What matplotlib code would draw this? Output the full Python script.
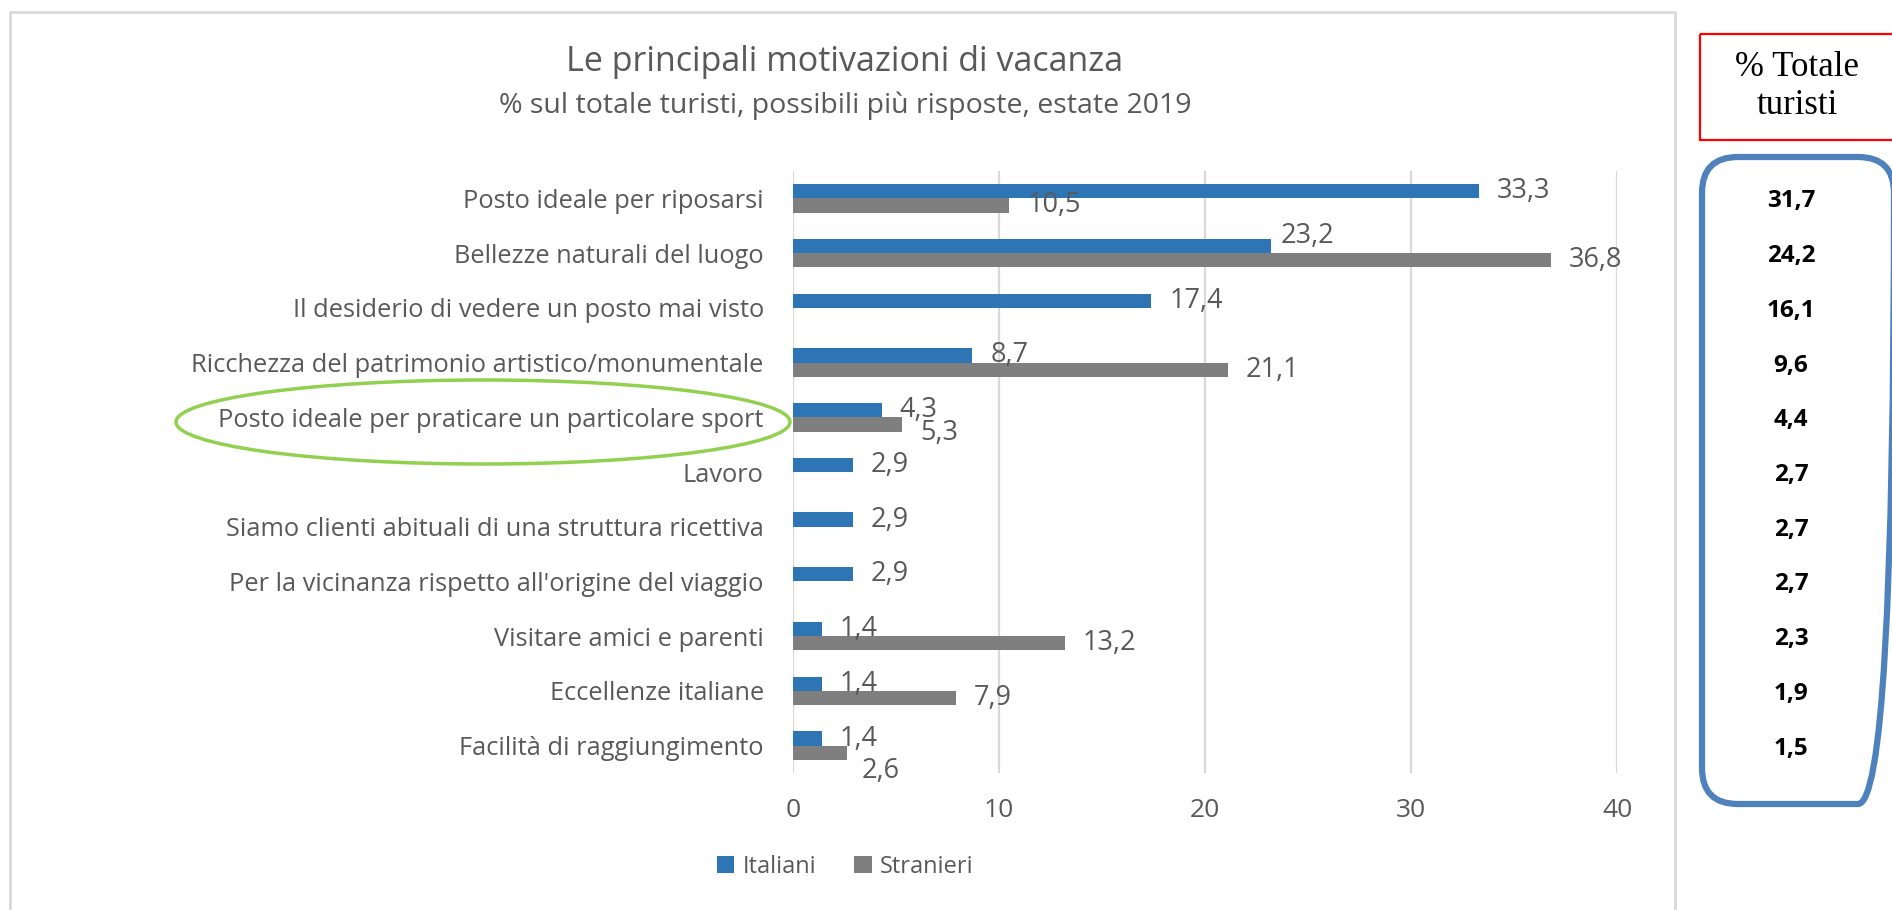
import numpy as np
import matplotlib
matplotlib.use("Agg")
import matplotlib.pyplot as plt
from matplotlib.patches import FancyBboxPatch, Ellipse, Rectangle

# data
categorie = [
    "Posto ideale per riposarsi",
    "Bellezze naturali del luogo",
    "Il desiderio di vedere un posto mai visto",
    "Ricchezza del patrimonio artistico/monumentale",
    "Posto ideale per praticare un particolare sport",
    "Lavoro",
    "Siamo clienti abituali di una struttura ricettiva",
    "Per la vicinanza rispetto all'origine del viaggio",
    "Visitare amici e parenti",
    "Eccellenze italiane",
    "Facilità di raggiungimento",
]
italiani = [33.3, 23.2, 17.4, 8.7, 4.3, 2.9, 2.9, 2.9, 1.4, 1.4, 1.4]
stranieri = [10.5, 36.8, None, 21.1, 5.3, None, None, None, 13.2, 7.9, 2.6]
totale = [31.7, 24.2, 16.1, 9.6, 4.4, 2.7, 2.7, 2.7, 2.3, 1.9, 1.5]
xticks = [0, 10, 20, 30, 40]

BLUE = "#2E75B6"
GRAY = "#7F7F7F"
TXT = "#595959"
FONT = "Open Sans"

fig = plt.figure(figsize=(18.92, 9.10), dpi=100)

ax = fig.add_axes([793 / 1892, 1 - 773 / 910, (1617 - 793) / 1892, 602 / 910])
y = np.arange(len(categorie))
h = 0.26

ita = np.array(italiani, dtype=float)
stra = np.array([np.nan if v is None else v for v in stranieri])

b1 = ax.barh(y - h / 2, ita, height=h, color=BLUE, label="Italiani", zorder=3)
b2 = ax.barh(y + h / 2, np.nan_to_num(stra), height=h, color=GRAY, label="Stranieri", zorder=3)

def fmt(v):
    return ("%.1f" % v).replace(".", ",")

# small label nudges (points) where the original moved labels to avoid overlap
nudge = {("s", 4): (0, -6), ("s", 10): (-2, -13), ("i", 1): (-6, 7)}

for i, v in enumerate(ita):
    dx, dy = nudge.get(("i", i), (0, 0))
    ax.annotate(fmt(v), (v, y[i] - h / 2), xytext=(13 + dx, dy), textcoords="offset points",
                va="center", ha="left", fontsize=19.5, color=TXT, family=FONT)
for i, v in enumerate(stra):
    if np.isnan(v):
        continue
    dx, dy = nudge.get(("s", i), (0, 0))
    ax.annotate(fmt(v), (v, y[i] + h / 2), xytext=(13 + dx, dy), textcoords="offset points",
                va="center", ha="left", fontsize=19.5, color=TXT, family=FONT)

ax.set_xlim(0, 40)
ax.set_ylim(len(categorie) - 0.5, -0.5)
ax.set_xticks(xticks)
ax.set_xticklabels([str(t) for t in xticks], fontsize=19, color=TXT, family=FONT)
ax.set_yticks(y)
ax.set_yticklabels(categorie, fontsize=18.3, color=TXT, family=FONT)
ax.tick_params(axis="x", length=0, pad=18)
ax.tick_params(axis="y", length=0, pad=21)
ax.grid(axis="x", color="#D9D9D9", linewidth=1.6, zorder=0)
for s in ax.spines.values():
    s.set_visible(False)

leg = fig.legend(handles=[b1, b2], loc="center", bbox_to_anchor=(845 / 1892, 1 - 867 / 910),
                 ncol=2, frameon=False, prop={"family": FONT, "size": 17},
                 handlelength=0.75, handleheight=0.75, handletextpad=0.35, columnspacing=1.6)
for t in leg.get_texts():
    t.set_color(TXT)

# overlay in pixel units for the frame, the title and the side panel
ov = fig.add_axes([0, 0, 1, 1], zorder=5)
ov.set_xlim(0, 1892)
ov.set_ylim(910, 0)
ov.axis("off")
ov.patch.set_alpha(0)

ov.plot([10, 10, 1675, 1675], [910, 12, 12, 910], color="#D9D9D9", lw=2)

ov.text(845, 62, "Le principali motivazioni di vacanza", ha="center", va="center",
        fontsize=24.5, color=TXT, family=FONT)
ov.text(845, 106, "% sul totale turisti, possibili più risposte, estate 2019", ha="center",
        va="center", fontsize=20.5, color=TXT, family=FONT)

ov.add_patch(Ellipse((483, 422), 614, 84, fill=False, edgecolor="#92D050", lw=2.5))

ov.add_patch(Rectangle((1700, 34), 250, 106, fill=False, edgecolor="#FF0000", lw=1.6, clip_on=False))
ov.text(1797, 86, "% Totale\nturisti", ha="center", va="center", fontsize=25,
        family="Liberation Serif", color="black", linespacing=1.2)

ov.add_patch(FancyBboxPatch((1702, 157), 192, 647, boxstyle="round,pad=0,rounding_size=36",
                            fill=False, edgecolor="#4F81BD", lw=4.5))

# totals aligned with the chart categories
fig_to_ov = ax.transData + ov.transData.inverted()
for i, v in enumerate(totale):
    _, yy = fig_to_ov.transform((0, y[i]))
    ov.text(1791, yy + 3, fmt(v), ha="center", va="center", fontsize=17.5, fontweight="bold",
            family=FONT, color="black")

fig.savefig("out.png", dpi=100)
